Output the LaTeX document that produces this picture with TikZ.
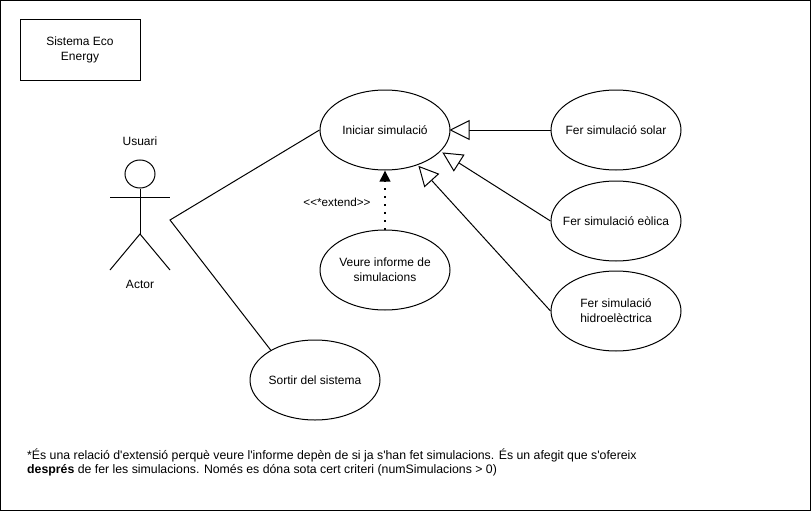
\documentclass[tikz,border=0pt]{standalone}
\usepackage{fontspec}
\setmainfont{Liberation Sans}[Ligatures=TeXOff]
\usetikzlibrary{arrows.meta,shapes.geometric}
\tikzset{
  usecase/.style={draw=black,line width=1pt,ellipse,minimum width=130pt,minimum height=80pt,inner xsep=-45pt,inner ysep=-12pt,align=center,font=\fontsize{12}{15}\selectfont},
  plainlabel/.style={inner sep=0pt,align=center,font=\fontsize{12}{15}\selectfont},
  conn/.style={draw=black,line width=1pt},
  gen/.style={conn,-{Triangle[open,fill=white,length=20pt,width=20pt,line width=1pt]},shorten >=1pt},
  ext/.style={draw=black,line width=2pt,dash pattern=on 2pt off 6pt,-{Triangle[length=11pt,width=10.5pt]},shorten >=0pt}
}
\begin{document}
\begin{tikzpicture}[x=1pt,y=-1pt]
\useasboundingbox (0,0) rectangle (811,511);
\draw[line width=1.2pt] (0.6,0.6) rectangle (810.4,510.4);
\node[draw=black,line width=1pt,minimum width=120pt,minimum height=60pt,inner sep=0pt,align=center,font=\fontsize{12}{15}\selectfont] (sys) at (80,50) {Sistema Eco\\Energy};
\node[usecase] (init) at (385,130) {Iniciar simulació};
\node[usecase] (solar) at (616,130) {Fer simulació solar};
\node[usecase] (eolica) at (616,221) {Fer simulació eòlica};
\node[usecase] (hidro) at (616,311) {Fer simulació\\hidroelèctrica};
\node[usecase] (veure) at (385,270) {Veure informe de\\simulacions};
\node[usecase] (sortir) at (315,380) {Sortir del sistema};
% actor
\node[plainlabel] (usuari) at (140,141) {Usuari};
\node[draw=black,line width=1pt,ellipse,minimum width=30pt,minimum height=28pt,inner sep=0pt] (head) at (140,174) {};
\coordinate (neck) at (140,234);
\coordinate (armL) at (110,197);
\coordinate (armR) at (170,197);
\coordinate (footL) at (110,270);
\coordinate (footR) at (170,270);
\coordinate (actorpt) at (170,220);
\draw[conn] (head.south) -- (neck);
\draw[conn] (armL) -- (armR);
\draw[conn] (footL) -- (neck) -- (footR);
\node[plainlabel] (actor) at (140,284) {Actor};
% connectors
\draw[conn] (init.west) -- (actorpt) -- (sortir.146);
\draw[gen,shorten >=-1pt] (solar.west) -- (init.east);
\draw[gen,shorten >=2pt] (eolica.west) -- (init.-21);
\draw[gen] (hidro.west) -- (init.-47);
\draw[ext] (veure.north) -- (init.south);
\node[plainlabel,font=\fontsize{11.7}{14}\selectfont] (extlabel) at (337,202) {<<*extend>>};
\node[inner sep=0pt,anchor=north west,align=left,font=\fontsize{12.3}{14}\selectfont] (note) at (27,449) {*És una relació d'extensió perquè veure l'informe depèn de si ja s'han fet simulacions. És un afegit que s'ofereix\\\textbf{després} de fer les simulacions. Només es dóna sota cert criteri (numSimulacions > 0)};
\end{tikzpicture}
\end{document}
